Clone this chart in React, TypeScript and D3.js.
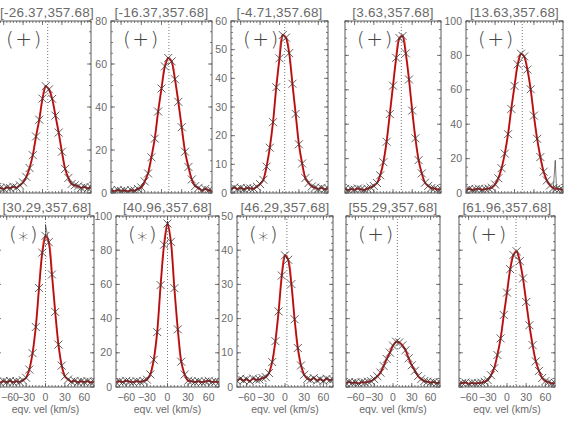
import React from "react";
import * as d3 from "d3";

// ---------- data ----------
const velocities = [-75, -70, -65, -60, -55, -50, -45, -40, -35, -30, -25, -20, -15, -10, -5, 0, 5, 10, 15, 20, 25, 30, 35, 40, 45, 50, 55, 60, 65, 70, 75];

const panelTitles = [
  "[-26.37,357.68]", "[-16.37,357.68]", "[-4.71,357.68]", "[3.63,357.68]", "[13.63,357.68]",
  "[30.29,357.68]", "[40.96,357.68]", "[46.29,357.68]", "[55.29,357.68]", "[61.96,357.68]",
];
const panelFlags = ["+", "+", "+", "+", "+", "*", "*", "*", "+", "+"];
const yMaxima = [80, 80, 60, 100, 100, 100, 100, 50, 100, 100];
const yTickSteps = [20, 20, 10, 20, 20, 20, 20, 10, 20, 20];
const refVelocities = [8, 11, 8, 13, 12, 0, 0, 3, 7, 14];
const xTickValues = [-60, -30, 0, 30, 60];

const profileA = [2.1, 2.8, 2.4, 1.9, 2.6, 2.3, 2.9, 2.5, 3.6, 4.9, 7.5, 11.6, 17.6, 26.3, 34.1, 43.9, 49.7, 48.2, 43.8, 36.0, 28.1, 19.2, 11.2, 7.0, 4.2, 3.6, 3.1, 2.4, 2.8, 2.2, 2.6];
const profileB = [1.3, 0.8, 1.4, 0.9, 1.2, 0.7, 1.3, 1.1, 1.9, 2.6, 5.4, 9.1, 16.6, 25.3, 37.9, 48.6, 58.9, 62.8, 61.2, 52.9, 42.4, 30.6, 19.2, 12.1, 6.3, 3.2, 2.4, 1.2, 1.9, 1.3, 0.9];
const profileC = [1.2, 1.9, 1.4, 1.8, 1.3, 1.7, 1.6, 1.5, 2.2, 3.1, 4.6, 9.2, 15.8, 24.7, 36.9, 47.0, 55.1, 54.2, 48.8, 38.1, 27.6, 17.0, 10.3, 5.2, 3.5, 2.3, 1.9, 1.4, 1.8, 1.3, 1.6];
const profileD = [2.4, 1.7, 2.3, 1.9, 2.6, 2.1, 1.8, 2.5, 3.2, 4.1, 5.8, 10.3, 17.9, 29.8, 45.9, 62.4, 78.6, 90.1, 91.3, 81.2, 66.0, 47.9, 31.8, 19.1, 11.4, 6.0, 4.1, 2.9, 2.6, 2.0, 2.4];
const profileE = [1.6, 2.4, 1.8, 2.2, 2.5, 1.9, 2.3, 2.6, 3.1, 5.0, 8.6, 14.4, 22.9, 34.2, 48.9, 62.3, 74.8, 81.0, 79.4, 71.8, 60.3, 45.0, 31.5, 20.9, 12.4, 7.3, 4.4, 2.8, 2.5, 2.2, 1.8];
const profileF = [3.2, 2.6, 3.4, 2.9, 3.5, 2.8, 3.3, 3.0, 3.9, 5.4, 10.2, 19.8, 35.1, 57.9, 78.6, 88.4, 84.7, 65.8, 43.9, 24.8, 12.5, 6.3, 4.4, 3.1, 3.6, 2.8, 3.3, 2.9, 3.4, 2.7, 3.1];
const profileG = [2.7, 3.3, 2.9, 3.6, 3.1, 2.8, 3.4, 3.0, 3.5, 4.3, 7.4, 15.9, 32.1, 59.6, 83.2, 95.6, 84.9, 57.8, 33.7, 14.8, 7.3, 3.7, 3.4, 2.9, 3.3, 2.8, 3.2, 3.6, 2.9, 3.1, 2.7];
const profileH = [1.8, 2.4, 1.9, 2.3, 1.7, 2.5, 2.1, 2.2, 2.6, 2.9, 4.1, 7.3, 13.4, 22.1, 32.6, 38.5, 37.2, 30.1, 19.8, 11.4, 6.3, 3.6, 2.4, 2.1, 2.6, 1.9, 2.3, 1.8, 2.4, 2.0, 2.2];
const profileI = [2.2, 2.9, 2.4, 2.7, 2.1, 2.8, 2.6, 3.1, 3.4, 4.6, 6.3, 8.4, 12.3, 16.4, 20.1, 24.2, 26.5, 26.1, 24.4, 21.5, 16.8, 12.7, 9.5, 6.4, 4.6, 3.5, 3.1, 2.6, 2.9, 2.3, 2.7];
const profileJ = [1.7, 2.3, 2.6, 1.9, 2.4, 2.1, 2.3, 2.5, 3.1, 4.0, 6.9, 11.0, 18.7, 28.4, 42.1, 55.2, 68.9, 77.2, 79.4, 73.6, 63.5, 49.7, 36.1, 24.5, 15.0, 9.4, 5.3, 3.4, 2.8, 2.1, 2.4];
const profiles = [profileA, profileB, profileC, profileD, profileE, profileF, profileG, profileH, profileI, profileJ];

// raw-spectrum spikes seen in a few panels: [panel, velocity, value]
const spikePanels = [4, 5, 6];
const spikeVelocities = [63, 0, 0];
const spikeValues = [19, 95, 97];

// ---------- layout ----------
const W = 568;
const H = 430;
const rows = [
  { top: 21, bottom: 193, lefts: [-6, 111, 231, 345, 466], rights: [91, 212, 328, 441, 563] },
  { top: 216, bottom: 387, lefts: [-3, 116, 237, 346, 459], rights: [94, 219, 333, 440, 555] },
];
const showYLabels = [false, true, true, false, true, false, true, true, false, false];
const AXIS = "#5a5a5a";
const TEXT = "#6a6a6a";
const FONT = "'Liberation Sans', Arial, sans-serif";

function Panel({ idx }: { idx: number }) {
  const r = Math.floor(idx / 5);
  const c = idx % 5;
  const row = rows[r];
  const L = row.lefts[c];
  const R = row.rights[c];
  const T = row.top;
  const B = row.bottom;
  const x = d3.scaleLinear().domain([-75, 75]).range([L, R]);
  const y = d3.scaleLinear().domain([0, yMaxima[idx]]).range([B, T]);
  const step = yTickSteps[idx];
  const yMajor = d3.range(0, yMaxima[idx] + 0.001, step);
  const yMinor = d3.range(0, yMaxima[idx] + 0.001, step === 20 ? 5 : 2);
  const xMinor = d3.range(-75, 75.001, 5);
  const vals = profiles[idx];
  const pts: [number, number][] = velocities.map((v, i) => [v, vals[i]]);
  let rawPts = pts.slice();
  spikePanels.forEach((p, k) => {
    if (p === idx) {
      rawPts = rawPts.concat([[spikeVelocities[k], spikeValues[k]]]);
    }
  });
  rawPts.sort((a, b) => a[0] - b[0]);
  const raw = d3.line<[number, number]>().x((d) => x(d[0])).y((d) => y(d[1]));
  const smooth = d3
    .line<[number, number]>()
    .x((d) => x(d[0]))
    .y((d) => y(d[1]))
    .curve(d3.curveCatmullRom.alpha(0.5));
  const clipId = `clip-${idx}`;
  const rv = refVelocities[idx];
  const titleX = Math.max((L + R) / 2, 47);
  const flag = panelFlags[idx];
  const isStar = flag === "*";
  return (
    <g>
      <defs>
        <clipPath id={clipId}>
          <rect x={L} y={T} width={R - L} height={B - T} />
        </clipPath>
      </defs>
      <text x={titleX} y={T - 4} textAnchor="middle" fontSize={13.5} fill={TEXT} fontFamily={FONT} letterSpacing={0.2}>
        {panelTitles[idx]}
      </text>
      <g clipPath={`url(#${clipId})`}>
        <line x1={x(rv)} x2={x(rv)} y1={T} y2={B} stroke="#777" strokeWidth={1} strokeDasharray="1,2" />
        <path d={smooth(pts) || ""} fill="none" stroke="#ff1a1a" strokeWidth={2} />
        <path d={raw(rawPts) || ""} fill="none" stroke="#222" strokeWidth={0.6} />
        {pts.map((p, i) => (
          <path
            key={i}
            transform={`translate(${x(p[0])},${y(p[1])})`}
            d="M-4,-4L4,4M-4,4L4,-4"
            stroke="#3a3a3a"
            strokeWidth={0.8}
            fill="none"
          />
        ))}
      </g>
      <rect x={L} y={T} width={R - L} height={B - T} fill="none" stroke={AXIS} strokeWidth={1} />
      {xMinor.map((v) => (
        <g key={`xm${v}`}>
          <line x1={x(v)} x2={x(v)} y1={B} y2={B - 2} stroke={AXIS} strokeWidth={0.8} />
          <line x1={x(v)} x2={x(v)} y1={T} y2={T + 2} stroke={AXIS} strokeWidth={0.8} />
        </g>
      ))}
      {xTickValues.map((v) => {
        const lx = x(v);
        const nearEdge = lx < 10;
        return (
          <g key={`xM${v}`}>
            <line x1={lx} x2={lx} y1={B} y2={B - 4} stroke={AXIS} strokeWidth={0.8} />
            <line x1={lx} x2={lx} y1={T} y2={T + 4} stroke={AXIS} strokeWidth={0.8} />
            {r === 1 && (
              <text
                x={nearEdge ? 1 : lx}
                y={B + 14}
                textAnchor={nearEdge ? "start" : "middle"}
                fontSize={10.5}
                fill={TEXT}
                fontFamily={FONT}
              >
                {v < 0 ? `\u2212${-v}` : `${v}`}
              </text>
            )}
          </g>
        );
      })}
      {yMinor.map((v) => (
        <g key={`ym${v}`}>
          <line x1={L} x2={L + 2} y1={y(v)} y2={y(v)} stroke={AXIS} strokeWidth={0.8} />
          <line x1={R} x2={R - 2} y1={y(v)} y2={y(v)} stroke={AXIS} strokeWidth={0.8} />
        </g>
      ))}
      {yMajor.map((v) => (
        <g key={`yM${v}`}>
          <line x1={L} x2={L + 4} y1={y(v)} y2={y(v)} stroke={AXIS} strokeWidth={0.8} />
          <line x1={R} x2={R - 4} y1={y(v)} y2={y(v)} stroke={AXIS} strokeWidth={0.8} />
          {showYLabels[idx] && (
            <text x={L - 4} y={y(v) + 3.5} textAnchor="end" fontSize={10.5} fill={TEXT} fontFamily={FONT}>
              {v}
            </text>
          )}
        </g>
      ))}
      {r === 1 && (
        <text x={(L + R) / 2} y={B + 26} textAnchor="middle" fontSize={10.5} fill={TEXT} fontFamily={FONT}>
          eqv. vel (km/s)
        </text>
      )}
      <text
        x={L + 12}
        y={T + 25}
        fontSize={20}
        fill="#444"
        fontFamily="'DejaVu Sans', sans-serif"
        fontWeight={200}
        letterSpacing={1.5}
      >
        <tspan>(</tspan>
        <tspan dy={isStar ? 5 : 0}>{flag}</tspan>
        <tspan dy={isStar ? -5 : 0}>)</tspan>
      </text>
    </g>
  );
}

export default function App() {
  return (
    <svg
      width={W}
      height={H}
      viewBox={`0 0 ${W} ${H}`}
      style={{ position: "absolute", left: 0, top: 0, background: "#fff" }}
    >
      <rect x={0} y={0} width={W} height={H} fill="#fff" />
      {panelTitles.map((_, i) => (
        <Panel key={i} idx={i} />
      ))}
    </svg>
  );
}
